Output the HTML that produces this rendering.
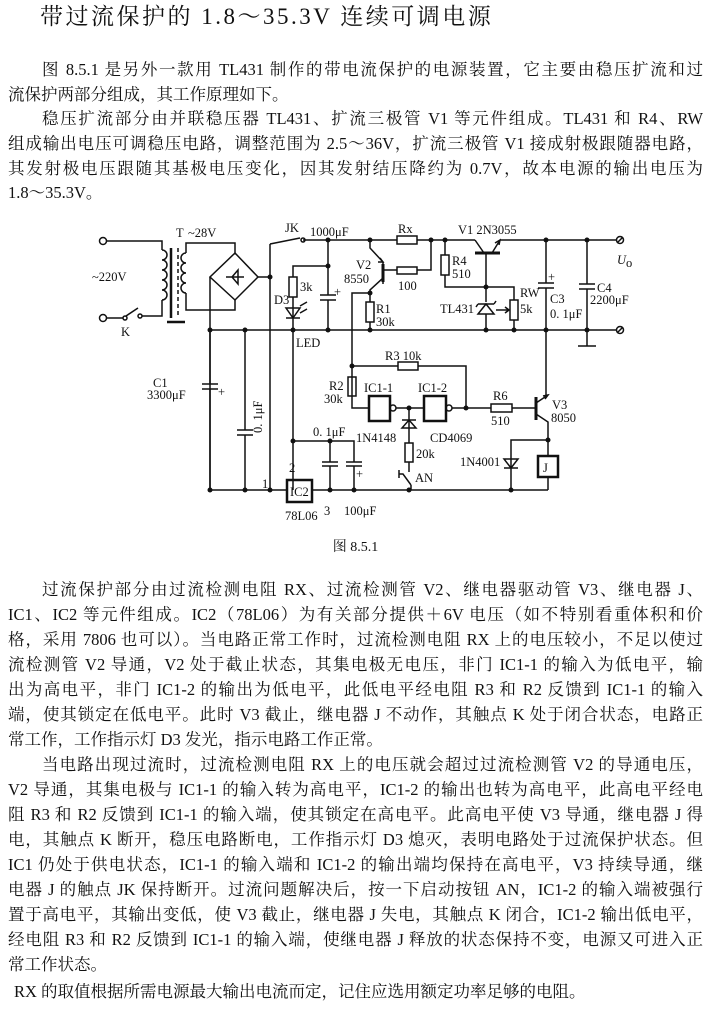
<!DOCTYPE html>
<html><head><meta charset="utf-8">
<style>
body{margin:0;background:#fff;width:712px;height:1023px;position:relative;overflow:hidden;font-family:"Liberation Serif","Noto Serif CJK SC","Noto Sans CJK SC",serif;color:#111}
.l{position:absolute;left:8px;width:695px;font-size:16.5px;line-height:24px;height:24px;white-space:nowrap;text-align:justify;text-align-last:justify}
.i{left:42px;width:661px}
.e{text-align-last:left}
.t{position:absolute;left:40px;top:3px;font-size:23px;line-height:28px;white-space:nowrap;letter-spacing:2.5px}
svg{position:absolute;left:0;top:0}
svg text{font-family:"Liberation Serif","Noto Serif CJK SC",serif;font-size:12.5px;fill:#111}
</style></head><body>
<div class="t">带过流保护的 1.8～35.3V 连续可调电源</div>
<div class="l i" style="top:58px">图 8.5.1 是另外一款用 TL431 制作的带电流保护的电源装置，它主要由稳压扩流和过</div>
<div class="l e" style="top:83px">流保护两部分组成，其工作原理如下。</div>
<div class="l i" style="top:107px">稳压扩流部分由并联稳压器 TL431、扩流三极管 V1 等元件组成。TL431 和 R4、RW</div>
<div class="l" style="top:132px">组成输出电压可调稳压电路，调整范围为 2.5～36V，扩流三极管 V1 接成射极跟随器电路，</div>
<div class="l" style="top:157px">其发射极电压跟随其基极电压变化，因其发射结压降约为 0.7V，故本电源的输出电压为</div>
<div class="l e" style="top:181px">1.8～35.3V。</div>

<div class="l" style="top:536px;text-align:center;text-align-last:center;font-size:14px">图 8.5.1</div>

<div class="l i" style="top:578px">过流保护部分由过流检测电阻 RX、过流检测管 V2、继电器驱动管 V3、继电器 J、</div>
<div class="l" style="top:603px">IC1、IC2 等元件组成。IC2（78L06）为有关部分提供＋6V 电压（如不特别看重体积和价</div>
<div class="l" style="top:628px">格，采用 7806 也可以）。当电路正常工作时，过流检测电阻 RX 上的电压较小，不足以使过</div>
<div class="l" style="top:653px">流检测管 V2 导通，V2 处于截止状态，其集电极无电压，非门 IC1-1 的输入为低电平，输</div>
<div class="l" style="top:678px">出为高电平，非门 IC1-2 的输出为低电平，此低电平经电阻 R3 和 R2 反馈到 IC1-1 的输入</div>
<div class="l" style="top:703px">端，使其锁定在低电平。此时 V3 截止，继电器 J 不动作，其触点 K 处于闭合状态，电路正</div>
<div class="l e" style="top:728px">常工作，工作指示灯 D3 发光，指示电路工作正常。</div>
<div class="l i" style="top:753px">当电路出现过流时，过流检测电阻 RX 上的电压就会超过过流检测管 V2 的导通电压，</div>
<div class="l" style="top:778px">V2 导通，其集电极与 IC1-1 的输入转为高电平，IC1-2 的输出也转为高电平，此高电平经电</div>
<div class="l" style="top:803px">阻 R3 和 R2 反馈到 IC1-1 的输入端，使其锁定在高电平。此高电平使 V3 导通，继电器 J 得</div>
<div class="l" style="top:828px">电，其触点 K 断开，稳压电路断电，工作指示灯 D3 熄灭，表明电路处于过流保护状态。但</div>
<div class="l" style="top:853px">IC1 仍处于供电状态，IC1-1 的输入端和 IC1-2 的输出端均保持在高电平，V3 持续导通，继</div>
<div class="l" style="top:878px">电器 J 的触点 JK 保持断开。过流问题解决后，按一下启动按钮 AN，IC1-2 的输入端被强行</div>
<div class="l" style="top:903px">置于高电平，其输出变低，使 V3 截止，继电器 J 失电，其触点 K 闭合，IC1-2 输出低电平，</div>
<div class="l" style="top:928px">经电阻 R3 和 R2 反馈到 IC1-1 的输入端，使继电器 J 释放的状态保持不变，电源又可进入正</div>
<div class="l e" style="top:953px">常工作状态。</div>
<div class="l e" style="top:980px;left:14px">RX 的取值根据所需电源最大输出电流而定，记住应选用额定功率足够的电阻。</div>

<svg width="712" height="1023" viewBox="0 0 712 1023">
<g fill="none" stroke="#111" stroke-width="1.5">
<circle cx="103" cy="241" r="3.5"/><circle cx="103" cy="318" r="3.5"/>
<path d="M107 241H162V250"/>
<path d="M162 250a5 5 0 0 1 0 10a5 5 0 0 1 0 10a5 5 0 0 1 0 10a5 5 0 0 1 0 10a5 5 0 0 1 0 10"/>
<path d="M162 300V316H142"/><path d="M107 318H123"/><circle cx="125" cy="318" r="2"/><circle cx="140" cy="316" r="2"/><path d="M126 316L138 308"/>
<path d="M171 248V318" stroke-width="2.5"/><path d="M178 248V318" stroke-dasharray="4 3"/><path d="M167 322H185" stroke-width="2.5"/>
<path d="M186 253a5 5 0 0 0 0 10a5 5 0 0 0 0 10a5 5 0 0 0 0 10a5 5 0 0 0 0 10"/>
<path d="M186 253V243H235V253"/><path d="M186 293V310H235V300"/>
<path d="M235 253L258 277L235 300L210 277Z"/>
<path d="M226 277H244M238 270V284M238 270L232 277L238 284Z"/>
<path d="M210 277V490"/><path d="M258 277H270"/>
<path d="M270 244V490"/>
<path d="M270 244L300 238"/><circle cx="303" cy="240" r="2"/>
<path d="M303 240H397M417 240H475M500 240H616"/>
<circle cx="620" cy="240" r="3.5"/><path d="M617 243L623 237"/>
<path d="M210 330H616"/><circle cx="620" cy="330" r="3.5"/><path d="M617 333L623 327"/>
<path d="M328 240V295M320 295H336M320 300H336M328 300V330"/>
<path d="M328 266H293V277"/><rect x="289" y="277" width="8" height="20"/>
<path d="M293 297V330"/><path d="M286 308H300L293 318Z"/><path d="M286 318H300"/>
<path d="M300 306l7 -4M300 313l7 -4"/>
<path d="M293 330V490"/>
<path d="M370 240V248L383 262M383 262V284M383 270H397"/><path d="M383 264V282" stroke-width="3"/>
<path d="M383 278L370 290V302"/><path d="M380 258l3 4l-5 0"/>
<rect x="397" y="267" width="20" height="7"/><path d="M417 270H431V240"/>
<rect x="397" y="236" width="20" height="8"/>
<rect x="366" y="302" width="8" height="20"/><path d="M370 322V330"/>
<path d="M370 293H352V396"/>
<rect x="441" y="255" width="8" height="20"/><path d="M445 240V255M445 275V287H514V300"/>
<path d="M475 240L484 253M500 240L492 253"/><path d="M475 253H500" stroke-width="3"/><path d="M495 243l5 -3l-1 5"/>
<path d="M486 253V302M486 314V330"/>
<path d="M478 314H494L486 304Z"/><path d="M478 304H494M494 304l2 -3M478 304l-2 3"/>
<rect x="510" y="300" width="8" height="20"/><path d="M514 320V330"/><path d="M496 310H509M505 307l4 3l-4 3"/>
<path d="M546 240V283M538 283H554M538 288H554M546 288V395"/>
<path d="M587 240V284M579 284H595M579 289H595M587 289V346M578 346H596" />
<path d="M352 366H398M418 366H466V408"/><rect x="398" y="362" width="20" height="8"/>
<rect x="348" y="377" width="8" height="19"/><path d="M352 396V408H369"/>
<rect x="369" y="396" width="21" height="25" stroke-width="2.5"/><circle cx="393" cy="408" r="3"/>
<path d="M396 408H424"/><rect x="424" y="396" width="22" height="25" stroke-width="2.5"/><circle cx="449" cy="408" r="3"/>
<path d="M452 408H491M512 408H535"/><rect x="491" y="404" width="21" height="8"/>
<path d="M536 397V420" stroke-width="3"/><path d="M536 403L548 395M536 414L548 422V440"/><path d="M543 396l5 -1l-3 4"/>
<path d="M409 408V443"/><path d="M402 428H416L409 420Z"/><path d="M402 420H416"/>
<rect x="405" y="443" width="8" height="19"/><path d="M409 462V472"/>
<path d="M399 470V478M399 474H403L411 485M411 485V490"/>
<path d="M548 440H511V490M548 440V456"/><path d="M504 459H518L511 468Z"/><path d="M504 468H518"/>
<rect x="538" y="456" width="20" height="21" stroke-width="2.5"/><path d="M548 477V490"/>
<path d="M210 490H287M312 490H548"/>
<path d="M210 330V384M202 384H218M202 389H218M210 389V490"/>
<path d="M245 330V430M237 430H253M237 435H253M245 435V490"/>
<path d="M293 441H354V462M346 462H362M346 466H362M354 466V490"/>
<path d="M330 441V462M322 462H338M322 466H338M330 466V490"/>
<rect x="287" y="480" width="25" height="22" stroke-width="2.5"/>
</g>
<g fill="#111">
<circle cx="270" cy="277" r="2.5"/><circle cx="210" cy="330" r="2.5"/><circle cx="245" cy="330" r="2.5"/><circle cx="293" cy="330" r="2.5"/><circle cx="328" cy="330" r="2.5"/><circle cx="370" cy="330" r="2.5"/><circle cx="486" cy="330" r="2.5"/><circle cx="514" cy="330" r="2.5"/><circle cx="546" cy="330" r="2.5"/><circle cx="587" cy="330" r="2.5"/>
<circle cx="328" cy="240" r="2.5"/><circle cx="328" cy="266" r="2.5"/><circle cx="370" cy="240" r="2.5"/><circle cx="431" cy="240" r="2.5"/><circle cx="445" cy="240" r="2.5"/><circle cx="546" cy="240" r="2.5"/><circle cx="587" cy="240" r="2.5"/>
<circle cx="370" cy="293" r="2.5"/><circle cx="486" cy="287" r="2.5"/><circle cx="352" cy="366" r="2.5"/><circle cx="409" cy="408" r="2.5"/><circle cx="466" cy="408" r="2.5"/><circle cx="548" cy="440" r="2.5"/>
<circle cx="210" cy="490" r="2.5"/><circle cx="245" cy="490" r="2.5"/><circle cx="270" cy="490" r="2.5"/><circle cx="293" cy="441" r="2.5"/><circle cx="330" cy="441" r="2.5"/><circle cx="330" cy="490" r="2.5"/><circle cx="354" cy="490" r="2.5"/><circle cx="409" cy="490" r="2.5"/><circle cx="511" cy="490" r="2.5"/>
</g>
<text x="92" y="281">~220V</text><text x="176" y="237" >T</text><text x="188" y="237">~28V</text><text x="121" y="336">K</text>
<text x="285" y="232">JK</text><text x="310" y="236">1000μF</text><text x="398" y="233">Rx</text><text x="458" y="234">V1  2N3055</text>
<text x="356" y="269">V2</text><text x="344" y="283">8550</text><text x="300" y="291">3k</text><text x="274" y="304">D3</text>
<text x="398" y="290">100</text><text x="376" y="313">R1</text><text x="376" y="326">30k</text>
<text x="452" y="265">R4</text><text x="452" y="278">510</text><text x="520" y="297">RW</text><text x="520" y="313">5k</text><text x="440" y="313">TL431</text>
<text x="550" y="303">C3</text><text x="550" y="318">0. 1μF</text><text x="597" y="292">C4</text><text x="590" y="304">2200μF</text>
<text x="617" y="264" font-style="italic">U</text><text x="626" y="267" font-size="9">o</text>
<text x="296" y="347">LED</text><text x="385" y="360">R3  10k</text><text x="329" y="390">R2</text><text x="324" y="403">30k</text>
<text x="364" y="392">IC1-1</text><text x="418" y="392">IC1-2</text><text x="493" y="400">R6</text><text x="491" y="425">510</text>
<text x="552" y="409">V3</text><text x="551" y="422">8050</text><text x="356" y="442">1N4148</text><text x="430" y="442">CD4069</text>
<text x="416" y="458">20k</text><text x="415" y="482">AN</text><text x="460" y="466">1N4001</text><text x="543" y="472" font-size="14">J</text>
<text x="313" y="436">0. 1μF</text><text x="153" y="387">C1</text><text x="147" y="399">3300μF</text><text x="218" y="396" font-size="11">+</text>
<text x="262" y="433" transform="rotate(-90 262 433)">0. 1μF</text>
<text x="289" y="472">2</text><text x="262" y="488">1</text><text x="290" y="496">IC2</text><text x="285" y="520">78L06</text>
<text x="324" y="515">3</text><text x="344" y="515">100μF</text>
<text x="334" y="296" font-size="10">+</text><text x="548" y="281" font-size="10">+</text><text x="356" y="478" font-size="10">+</text>
</svg>
</body></html>
